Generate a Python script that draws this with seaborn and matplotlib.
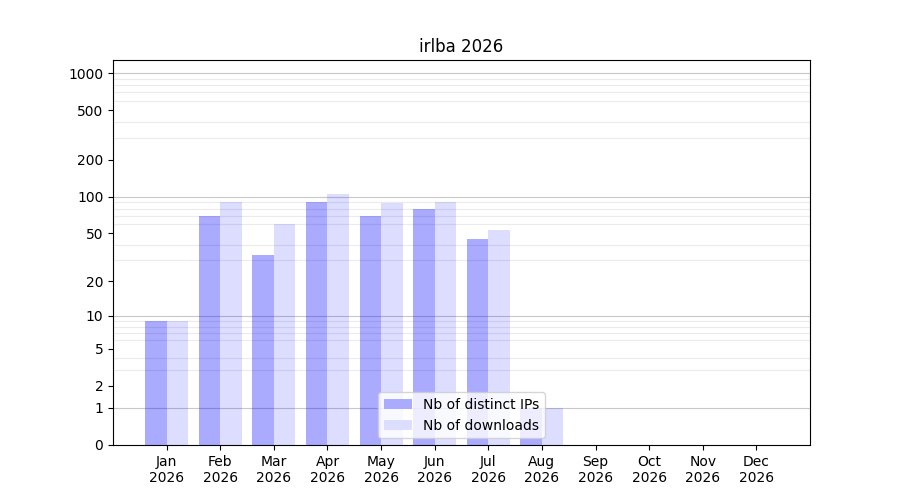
import numpy as np
import pandas as pd
import matplotlib
matplotlib.use("Agg")
import matplotlib.pyplot as plt
import seaborn as sns
from matplotlib.ticker import FixedLocator, FixedFormatter, NullFormatter

months = ["Jan\n2026", "Feb\n2026", "Mar\n2026", "Apr\n2026", "May\n2026", "Jun\n2026",
          "Jul\n2026", "Aug\n2026", "Sep\n2026", "Oct\n2026", "Nov\n2026", "Dec\n2026"]
distinct_ips = [9, 70, 33, 91, 70, 79, 45, 1, 0, 0, 0, 0]
downloads = [9, 90, 60, 106, 88, 90, 53, 1, 0, 0, 0, 0]
series_names = ["Nb of distinct IPs", "Nb of downloads"]
ytick_values = [0, 1, 2, 5, 10, 20, 50, 100, 200, 500, 1000]
title = "irlba 2026"

df = pd.DataFrame({
    "month": months * 2,
    "value": distinct_ips + downloads,
    "series": [series_names[0]] * len(months) + [series_names[1]] * len(months),
})

fig, ax = plt.subplots(figsize=(9, 5), dpi=100)
fig.subplots_adjust(left=0.1256, right=0.9, top=0.88, bottom=0.11)

sns.barplot(data=df, x="month", y="value", hue="series", order=months,
            hue_order=series_names, palette=["#aaaaff", "#ddddff"],
            saturation=1, width=0.8, dodge=True, ax=ax, errorbar=None,
            linewidth=0)

# semi-transparent blue so that grid lines show through like the reference
rgba = [(0, 0, 1, 0.333), (0, 0, 1, 0.135)]
for cont, c in zip(ax.containers, rgba):
    for p in cont:
        p.set_facecolor(c)
        p.set_edgecolor("none")

f = lambda y: np.log10(1 + np.maximum(y, 0))
finv = lambda y: 10 ** y - 1
ax.set_yscale("function", functions=(f, finv))
ax.set_ylim(0, finv(3.107))
ax.set_xlim(-1, 12)

ax.yaxis.set_major_locator(FixedLocator(ytick_values))
ax.yaxis.set_major_formatter(FixedFormatter([str(v) for v in ytick_values]))
minor_vals = [m * 10 ** e for e in range(0, 3) for m in range(2, 10)]
ax.yaxis.set_minor_locator(FixedLocator(minor_vals))
ax.yaxis.set_minor_formatter(NullFormatter())
ax.tick_params(axis="y", which="minor", length=0)
ax.set_axisbelow(True)
ax.grid(axis="y", which="minor", color="#ebebeb", linewidth=0.8)
for d in [1, 10, 100, 1000]:
    ax.axhline(d, color="#c8c8c8", linewidth=0.8, zorder=0.6)

ax.set_xlabel("")
ax.set_ylabel("")
ax.set_title(title)
leg = ax.legend(loc="lower center")

fig.savefig("out.png", dpi=100)
